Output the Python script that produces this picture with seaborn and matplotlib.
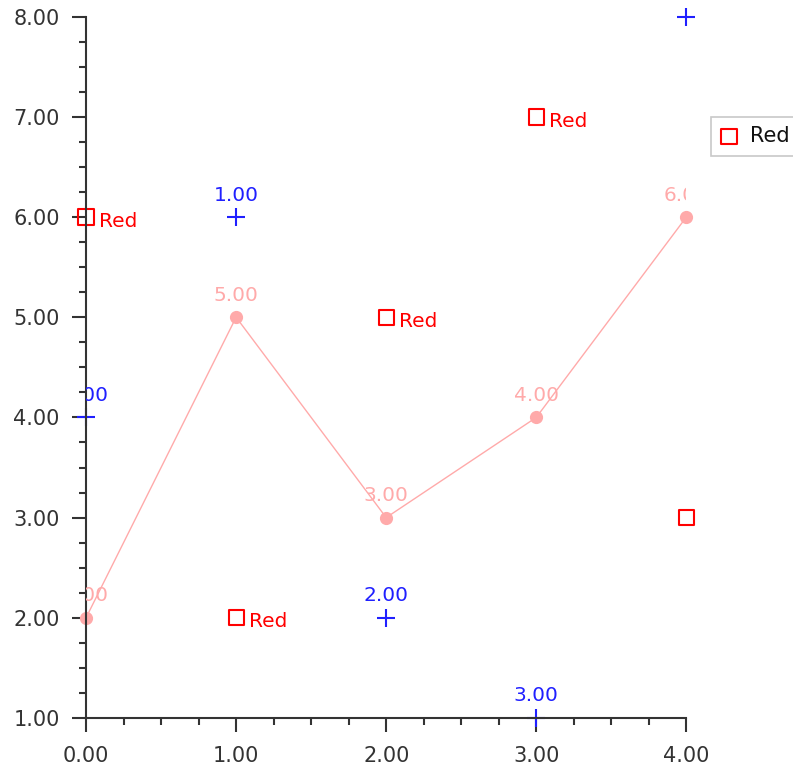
import matplotlib
matplotlib.use("Agg")
import matplotlib.pyplot as plt
from matplotlib.ticker import MultipleLocator, FormatStrFormatter
import pandas as pd
import seaborn as sns

# Données
x_vals = [0, 1, 2, 3, 4]
pink_y = [2, 5, 3, 4, 6]
blue_y = [4, 6, 2, 1, 8]
red_y = [6, 2, 5, 7, 3]
pink_labels = ["2.00", "5.00", "3.00", "4.00", "6.00"]
blue_labels = ["0.00", "1.00", "2.00", "3.00", "4.00"]
red_labels = ["Red", "Red", "Red", "Red", "Red"]

PINK = "#ffaaaa"
BLUE = "#2020ff"
RED = "#ff0000"

sns.set_style("white")
plt.rcParams["font.family"] = ["DejaVu Sans"]

df = pd.DataFrame({"x": x_vals, "pink": pink_y, "blue": blue_y, "red": red_y})

fig = plt.figure(figsize=(7.93, 7.74), dpi=100)
ax = fig.add_axes([0.1085, 0.0724, 0.757, 0.906])

sns.lineplot(data=df, x="x", y="pink", ax=ax, color=PINK, linewidth=1,
             marker="o", markersize=9.5, markeredgewidth=0, clip_on=False, legend=False)
sns.scatterplot(data=df, x="x", y="blue", ax=ax, color=BLUE, marker="+", s=150,
                linewidth=1.5, clip_on=False, legend=False)
sns.scatterplot(data=df, x="x", y="red", ax=ax, marker="s", s=120, facecolor="none",
                edgecolor=RED, linewidth=1.5, clip_on=False, label="Red")

# Étiquettes de valeurs (coupées au bord de la zone de tracé, comme sur l'original)
for xv, yv, lab in zip(x_vals, pink_y, pink_labels):
    ax.annotate(lab, (xv, yv), xytext=(0, 9), textcoords="offset points",
                ha="center", va="bottom", color=PINK, fontsize=14.5, annotation_clip=False,
                clip_on=True)
for xv, yv, lab in zip(x_vals, blue_y, blue_labels):
    ax.annotate(lab, (xv, yv), xytext=(0, 9), textcoords="offset points",
                ha="center", va="bottom", color=BLUE, fontsize=14.5, annotation_clip=False,
                clip_on=True)
for xv, yv, lab in zip(x_vals, red_y, red_labels):
    ax.annotate(lab, (xv, yv), xytext=(9.5, -3), textcoords="offset points",
                ha="left", va="center", color=RED, fontsize=14.5, annotation_clip=False,
                clip_on=True)

ax.set_xlim(0, 4)
ax.set_ylim(1, 8)
ax.xaxis.set_major_locator(MultipleLocator(1))
ax.xaxis.set_minor_locator(MultipleLocator(0.25))
ax.yaxis.set_major_locator(MultipleLocator(1))
ax.yaxis.set_minor_locator(MultipleLocator(0.25))
ax.xaxis.set_major_formatter(FormatStrFormatter("%.2f"))
ax.yaxis.set_major_formatter(FormatStrFormatter("%.2f"))
ax.tick_params(which="major", direction="out", length=10, width=1.5, labelsize=15,
               colors="#333333", bottom=True, left=True)
ax.tick_params(which="minor", direction="out", length=5, width=1.5, colors="#333333",
               bottom=True, left=True)
ax.tick_params(axis="x", which="major", pad=10)
ax.tick_params(axis="y", which="major", pad=9)
ax.set_xlabel("")
ax.set_ylabel("")

for side in ["top", "right"]:
    ax.spines[side].set_visible(False)
for side in ["left", "bottom"]:
    ax.spines[side].set_color("#333333")
    ax.spines[side].set_linewidth(1.5)

ax.get_legend().remove()
handles, labels = ax.get_legend_handles_labels()
leg = fig.legend(handles[-1:], labels[-1:], loc="upper left", bbox_to_anchor=(0.897, 0.849),
                 fontsize=15, frameon=True, fancybox=False, edgecolor="#bbbbbb",
                 handlelength=0.8, handletextpad=0.6, borderpad=0.45, borderaxespad=0)
leg.get_frame().set_linewidth(1.2)
for t in leg.get_texts():
    t.set_color("#111111")

fig.savefig("out.png", dpi=100)
